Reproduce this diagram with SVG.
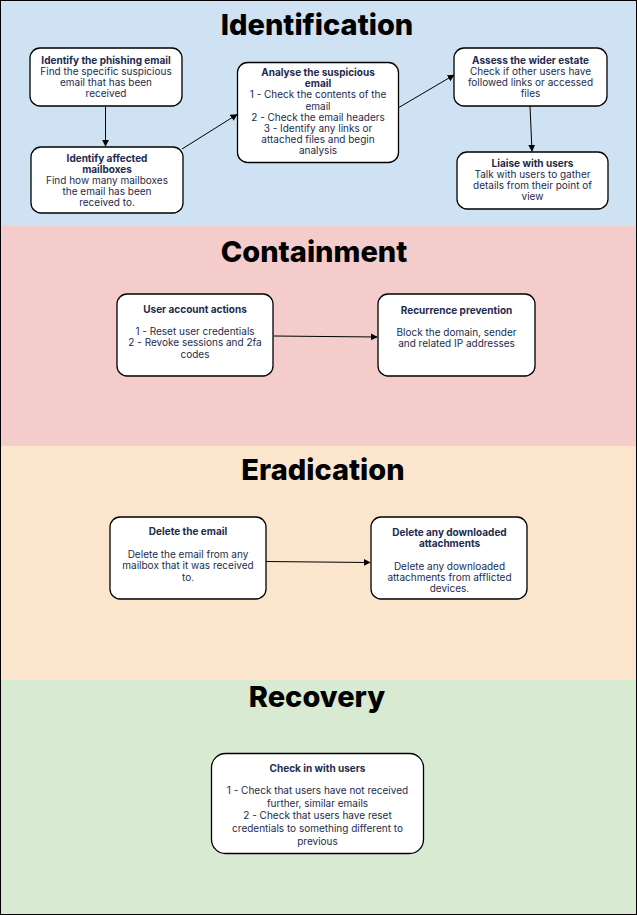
<svg xmlns="http://www.w3.org/2000/svg" width="637" height="915" viewBox="0 0 637 915">
<defs>
<marker id="arr" viewBox="0 0 10 10" refX="9" refY="5" markerWidth="7" markerHeight="7" markerUnits="userSpaceOnUse" orient="auto">
<path d="M0,0 L10,5 L0,10 z" fill="#000"/>
</marker>
<style>
.title{font-family:"Inter","Liberation Sans",sans-serif;font-weight:800;font-size:29px;fill:#000;text-anchor:middle}
.box{fill:#fff;stroke:#000;stroke-width:1.3}
.t{font-family:"Inter","Noto Sans","Liberation Sans",sans-serif;font-size:10px;fill:#1d2b4d;text-anchor:middle}
.b{font-weight:700}
.c{fill:none;stroke:#000;stroke-width:1;marker-end:url(#arr)}
</style>
</defs>
<g id="bands">
<rect x="0" y="0" width="637" height="226" fill="#cfe2f3"/>
<rect x="0" y="226" width="637" height="220" fill="#f4cccc"/>
<rect x="0" y="446" width="637" height="234" fill="#fce5cd"/>
<rect x="0" y="680" width="637" height="235" fill="#d9ead3"/>
<rect x="0.5" y="0.5" width="636" height="914" fill="none" stroke="#000" stroke-width="1"/>
</g>
<g id="titles">
<text class="title" x="317" y="34.5">Identification</text>
<text class="title" x="314" y="262">Containment</text>
<text class="title" x="323" y="479.5">Eradication</text>
<text class="title" x="317" y="707">Recovery</text>
</g>
<g id="connectors">
<line class="c" x1="105.5" y1="107" x2="105.5" y2="146"/>
<line class="c" x1="182" y1="149" x2="237" y2="114.5"/>
<line class="c" x1="398" y1="108" x2="454" y2="75"/>
<line class="c" x1="530" y1="106" x2="532" y2="151"/>
<line class="c" x1="274" y1="336" x2="377" y2="337"/>
<line class="c" x1="266" y1="561.5" x2="370" y2="562.5"/>
</g>
<g id="n1">
<rect class="box" x="30" y="48" width="152" height="58" rx="10"/>
<text class="t b" x="106" y="63.5">Identify the phishing email</text>
<text class="t" x="106" y="74.5">Find the specific suspicious</text>
<text class="t" x="106" y="85.5">email that has been</text>
<text class="t" x="106" y="96.5">received</text>
</g>
<g id="n2">
<rect class="box" x="31" y="147" width="152" height="66" rx="10"/>
<text class="t b" x="107" y="161.5">Identify affected</text>
<text class="t b" x="107" y="172.5">mailboxes</text>
<text class="t" x="107" y="184">Find how many mailboxes</text>
<text class="t" x="107" y="195">the email has been</text>
<text class="t" x="107" y="206">received to.</text>
</g>
<g id="n3">
<rect class="box" x="237.5" y="62.5" width="161" height="100" rx="10"/>
<text class="t b" x="318" y="76">Analyse the suspicious</text>
<text class="t b" x="318" y="87">email</text>
<text class="t" x="318" y="98">1 - Check the contents of the</text>
<text class="t" x="318" y="109.5">email</text>
<text class="t" x="318" y="121">2 - Check the email headers</text>
<text class="t" x="318" y="132">3 - Identify any links or</text>
<text class="t" x="318" y="143">attached files and begin</text>
<text class="t" x="318" y="154">analysis</text>
</g>
<g id="n4">
<rect class="box" x="454" y="48" width="153" height="58" rx="10"/>
<text class="t b" x="530.5" y="63.5">Assess the wider estate</text>
<text class="t" x="530.5" y="74.5">Check if other users have</text>
<text class="t" x="530.5" y="85.5">followed links or accessed</text>
<text class="t" x="530.5" y="96.5">files</text>
</g>
<g id="n5">
<rect class="box" x="457" y="152" width="151" height="57" rx="10"/>
<text class="t b" x="532.5" y="166.5">Liaise with users</text>
<text class="t" x="532.5" y="177.5">Talk with users to gather</text>
<text class="t" x="532.5" y="188.5">details from their point of</text>
<text class="t" x="532.5" y="199.5">view</text>
</g>
<g id="n6">
<rect class="box" x="117" y="294" width="156" height="82" rx="10"/>
<text class="t b" x="195" y="312.5">User account actions</text>
<text class="t" x="195" y="334.5">1 - Reset user credentials</text>
<text class="t" x="195" y="346">2 - Revoke sessions and 2fa</text>
<text class="t" x="195" y="357.5">codes</text>
</g>
<g id="n7">
<rect class="box" x="378" y="294" width="157" height="82" rx="10"/>
<text class="t b" x="456.5" y="313.5">Recurrence prevention</text>
<text class="t" x="456.5" y="336">Block the domain, sender</text>
<text class="t" x="456.5" y="347">and related IP addresses</text>
</g>
<g id="n8">
<rect class="box" x="110" y="517" width="156" height="82" rx="10"/>
<text class="t b" x="188" y="535">Delete the email</text>
<text class="t" x="188" y="557.5">Delete the email from any</text>
<text class="t" x="188" y="569">mailbox that it was received</text>
<text class="t" x="188" y="580.5">to.</text>
</g>
<g id="n9">
<rect class="box" x="371" y="517" width="156" height="82" rx="10"/>
<text class="t b" x="449.5" y="536">Delete any downloaded</text>
<text class="t b" x="449.5" y="547">attachments</text>
<text class="t" x="449.5" y="570">Delete any downloaded</text>
<text class="t" x="449.5" y="581">attachments from afflicted</text>
<text class="t" x="449.5" y="592">devices.</text>
</g>
<g id="n10">
<rect class="box" x="211.5" y="753.5" width="212" height="100" rx="14"/>
<text class="t b" x="317.5" y="771.5">Check in with users</text>
<text class="t" x="317.5" y="794">1 - Check that users have not received</text>
<text class="t" x="317.5" y="806.5">further, similar emails</text>
<text class="t" x="317.5" y="819">2 - Check that users have reset</text>
<text class="t" x="317.5" y="832">credentials to something different to</text>
<text class="t" x="317.5" y="845">previous</text>
</g>
</svg>
